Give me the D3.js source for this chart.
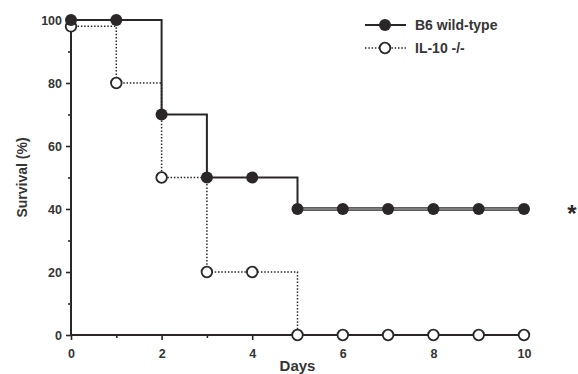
<!DOCTYPE html>
<html>
<head>
<meta charset="utf-8">
<script src="https://cdn.jsdelivr.net/npm/d3@7"></script>
<style>
  html, body { margin: 0; padding: 0; background: #fff; }
  svg { display: block; }
  text { font-family: "Liberation Sans", Arial, sans-serif; }
</style>
</head>
<body>
<svg id="chart" width="578" height="374"></svg>
<script>
// Survival over time, two mouse strains
const days = [0, 1, 2, 3, 4, 5, 6, 7, 8, 9, 10];
const wildType = [100, 100, 70, 50, 50, 40, 40, 40, 40, 40, 40];
const il10ko = [98, 80, 50, 20, 20, 0, 0, 0, 0, 0, 0];
const seriesNames = ["B6 wild-type", "IL-10 -/-"];
const xTicks = [0, 2, 4, 6, 8, 10];
const yTicks = [0, 20, 40, 60, 80, 100];
const xLabel = "Days";
const yLabel = "Survival (%)";
const sigMark = "*";

const ink = "#2b2728";
const textInk = "#353535";

const svg = d3.select("#chart");

const x = d3.scaleLinear().domain([0, 10]).range([71, 524]);
const y = d3.scaleLinear().domain([0, 100]).range([335, 20]);

// axes
const gx = svg.append("g").attr("transform", `translate(0,${y(0)})`);
gx.call(d3.axisBottom(x).tickValues(d3.range(0, 11, 1)).tickSize(0).tickFormat(""));
gx.select(".domain").remove();
gx.append("line").attr("x1", x(0) - 1).attr("x2", x(10) + 2)
  .attr("stroke", ink).attr("stroke-width", 2);
gx.selectAll(".tick line").remove();
gx.selectAll(".tick").append("line")
  .attr("y2", d => (d % 2 === 0 ? 5 : 3))
  .attr("stroke", ink).attr("stroke-width", 1.6);
gx.selectAll(".tick").filter(d => xTicks.includes(d)).append("text")
  .attr("y", 23).attr("text-anchor", "middle")
  .attr("font-size", 12.5).attr("font-weight", "bold").attr("fill", textInk)
  .text(d => d);

const gy = svg.append("g").attr("transform", `translate(${x(0)},0)`);
gy.call(d3.axisLeft(y).tickValues(d3.range(0, 101, 10)).tickSize(0).tickFormat(""));
gy.select(".domain").remove();
gy.append("line").attr("y1", y(100) - 1).attr("y2", y(0) + 1)
  .attr("stroke", ink).attr("stroke-width", 2);
gy.selectAll(".tick line").remove();
gy.selectAll(".tick").append("line")
  .attr("x2", d => (d % 20 === 0 ? -5 : -3))
  .attr("stroke", ink).attr("stroke-width", 1.6);
gy.selectAll(".tick").filter(d => yTicks.includes(d)).append("text")
  .attr("x", -9).attr("dy", "0.36em").attr("text-anchor", "end")
  .attr("font-size", 12.5).attr("font-weight", "bold").attr("fill", textInk)
  .text(d => d);

// axis titles
svg.append("text")
  .attr("x", (x(0) + x(10)) / 2).attr("y", 371)
  .attr("text-anchor", "middle").attr("font-size", 15).attr("font-weight", "bold")
  .attr("fill", textInk).text(xLabel);
svg.append("text")
  .attr("transform", `translate(27,${(y(0) + y(100)) / 2}) rotate(-90)`)
  .attr("text-anchor", "middle").attr("font-size", 14).attr("font-weight", "bold")
  .attr("fill", textInk).text(yLabel);

// step curves
const step = d3.line().x((d, i) => x(days[i])).y(d => y(d)).curve(d3.curveStepAfter);

svg.append("path").attr("d", step(il10ko))
  .attr("fill", "none").attr("stroke", ink).attr("stroke-width", 1.5)
  .attr("stroke-dasharray", "1.5,1.8");
svg.append("path").attr("d", step(wildType))
  .attr("fill", "none").attr("stroke", ink).attr("stroke-width", 2);

// plateau of the wild-type curve is drawn as a grey band with dark edges
const lastVal = wildType[wildType.length - 1];
const plateauStart = wildType.indexOf(lastVal);
svg.append("line")
  .attr("x1", x(days[plateauStart])).attr("x2", x(days[days.length - 1]))
  .attr("y1", y(lastVal)).attr("y2", y(lastVal))
  .attr("stroke", ink).attr("stroke-width", 3.5);
svg.append("line")
  .attr("x1", x(days[plateauStart])).attr("x2", x(days[days.length - 1]))
  .attr("y1", y(lastVal)).attr("y2", y(lastVal))
  .attr("stroke", "#9a9a9a").attr("stroke-width", 1.3);

// markers
svg.append("g").selectAll("circle").data(il10ko).join("circle")
  .attr("cx", (d, i) => x(days[i])).attr("cy", d => y(d)).attr("r", 5.3)
  .attr("fill", "#fff").attr("stroke", ink).attr("stroke-width", 1.8);
svg.append("g").selectAll("circle").data(wildType).join("circle")
  .attr("cx", (d, i) => x(days[i])).attr("cy", d => y(d)).attr("r", 6)
  .attr("fill", ink);

// significance marker
svg.append("text")
  .attr("x", 572).attr("y", y(lastVal) + 13)
  .attr("text-anchor", "middle").attr("font-size", 24).attr("font-weight", "bold")
  .attr("fill", ink).text(sigMark);

// legend
const legend = svg.append("g");
const rows = [
  { name: seriesNames[0], y: 25, filled: true },
  { name: seriesNames[1], y: 48, filled: false }
];
rows.forEach(r => {
  legend.append("line").attr("x1", 365).attr("x2", 406).attr("y1", r.y).attr("y2", r.y)
    .attr("stroke", ink).attr("stroke-width", r.filled ? 2 : 1.5)
    .attr("stroke-dasharray", r.filled ? null : "1.5,1.8");
  legend.append("circle").attr("cx", 385).attr("cy", r.y)
    .attr("r", r.filled ? 6 : 5.3)
    .attr("fill", r.filled ? ink : "#fff")
    .attr("stroke", r.filled ? "none" : ink).attr("stroke-width", 1.8);
  legend.append("text").attr("x", 415).attr("y", r.y).attr("dy", "0.36em")
    .attr("font-size", 14).attr("font-weight", "bold").attr("fill", textInk)
    .text(r.name);
});
</script>
</body>
</html>
